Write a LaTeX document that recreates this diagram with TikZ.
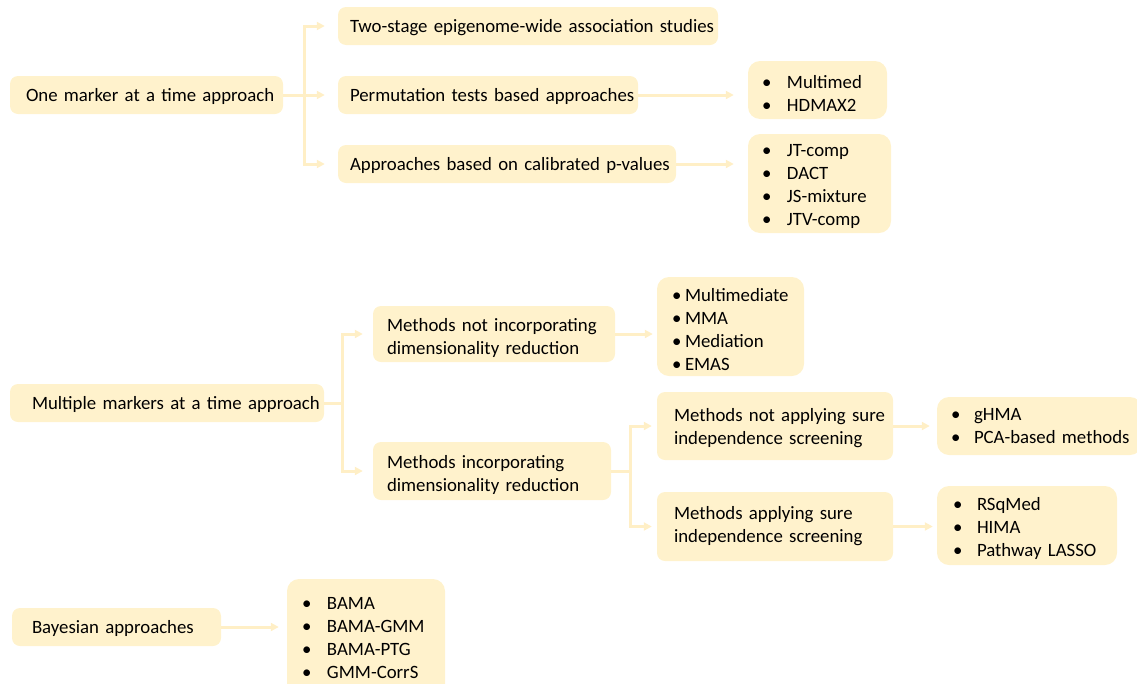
\documentclass[tikz,border=0pt]{standalone}
\usepackage{fontspec}
\setmainfont{Carlito}
\usetikzlibrary{arrows.meta,calc}
\definecolor{boxfill}{HTML}{FFF2CC}
\definecolor{linecol}{HTML}{FFEFC6}
\newcommand{\itm}[2]{\makebox[#1][l]{\textbullet}\mbox{#2}}
\begin{document}
\begin{tikzpicture}[x=1pt,y=-1pt,
  box/.style={fill=boxfill, draw=none, rounded corners=8pt, align=left,
    inner ysep=0pt, font=\fontsize{18.8}{23}\selectfont, text=black},
  lift/.style={execute at begin node={\rule{0pt}{#1}}},
  onebox/.style={box, lift=16pt},
  twobox/.style={box, lift=22pt},
  listbox/.style={box, rounded corners=12pt, lift=19pt},
  ln/.style={draw=linecol, line width=3pt},
  arr/.style={ln, -{Triangle[length=8pt,width=8pt]}}]
\useasboundingbox (0,0) rectangle (1137,683);

% --- One marker at a time ---
\node[onebox, inner xsep=16pt, text width=241pt, minimum height=38pt] (one) at (146.5,95) {\mbox{One marker at a time approach}};
\node[onebox, inner xsep=12pt, text width=356pt, minimum height=38pt] (two) at (528,26) {\mbox{Two-stage epigenome-wide association studies}};
\node[onebox, inner xsep=12pt, text width=276pt, minimum height=38pt] (perm) at (488,95) {\mbox{Permutation tests based approaches}};
\node[onebox, inner xsep=12pt, text width=314pt, minimum height=38pt] (calib) at (507,164) {\mbox{Approaches based on calibrated p-values}};
\node[listbox, inner xsep=14pt, text width=111pt, minimum height=58pt] (mm) at (817.5,90) {\itm{25pt}{Multimed}\\\itm{25pt}{HDMAX2}};
\node[listbox, inner xsep=14pt, text width=115pt, minimum height=99pt] (jt) at (819.5,183.5) {\itm{25pt}{JT-comp}\\\itm{25pt}{DACT}\\\itm{25pt}{JS-mixture}\\\itm{25pt}{JTV-comp}};

\coordinate (j1) at (304,95);
\draw[ln] (one.east) -- (j1);
\draw[arr] (j1) |- ($(two.west)+(-13,0)$);
\draw[arr] (j1) -- ($(perm.west)+(-13,0)$);
\draw[arr] (j1) |- ($(calib.west)+(-13,0)$);
\draw[arr] (perm.east) -- ($(mm.west |- perm.east)+(-14,0)$);
\draw[arr] (calib.east) -- ($(jt.west |- calib.east)+(-14,0)$);

% --- Multiple markers at a time ---
\node[onebox, inner xsep=22pt, text width=270pt, minimum height=38pt] (multi) at (167,403) {\mbox{Multiple markers at a time approach}};
\node[twobox, inner xsep=14pt, text width=214pt, minimum height=56pt] (notdim) at (494,334) {\mbox{Methods not incorporating}\\\mbox{dimensionality reduction}};
\node[twobox, inner xsep=14pt, text width=210pt, minimum height=58pt] (dim) at (492,471) {\mbox{Methods incorporating}\\\mbox{dimensionality reduction}};
\node[listbox, inner xsep=15pt, text width=117pt, minimum height=99pt] (mmd) at (730.5,326.5) {\itm{13pt}{Multimediate}\\\itm{13pt}{MMA}\\\itm{13pt}{Mediation}\\\itm{13pt}{EMAS}};
\node[box, lift=18pt, inner xsep=17pt, text width=202pt, minimum height=68pt] (notsis) at (775,426) {\mbox{Methods not applying sure}\\\mbox{independence screening}};
\node[box, inner xsep=17pt, text width=202pt, minimum height=69pt] (sis) at (775,526.5) {\mbox{Methods applying sure}\\\mbox{independence screening}};
\node[box, rounded corners=12pt, inner xsep=14pt, text width=177pt, minimum height=58pt] (ghma) at (1039.5,426) {\itm{23pt}{gHMA}\\\itm{23pt}{PCA-based methods}};
\node[listbox, inner xsep=16pt, text width=148pt, minimum height=79pt] (rsq) at (1027,525.5) {\itm{24pt}{RSqMed}\\\itm{24pt}{HIMA}\\\itm{24pt}{Pathway LASSO}};

\coordinate (j2) at (342,403);
\draw[ln] (multi.east) -- (j2);
\draw[arr] (j2) |- ($(notdim.west)+(-10,0)$);
\draw[arr] (j2) |- ($(dim.west)+(-10,0)$);
\draw[arr] (notdim.east) -- ($(mmd.west |- notdim.east)+(-4,0)$);
\coordinate (j3) at (630,471);
\draw[ln] (dim.east) -- (j3);
\draw[arr] (j3) |- ($(notsis.west)+(-5,0)$);
\draw[arr] (j3) |- ($(sis.west)+(-5,0)$);
\draw[arr] (notsis.east) -- ($(ghma.west |- notsis.east)+(-7,0)$);
\draw[arr] (sis.east) -- ($(rsq.west |- sis.east)+(-4,0)$);

% --- Bayesian ---
\node[onebox, inner xsep=20pt, text width=169pt, minimum height=38pt] (bayes) at (116.5,627) {\mbox{Bayesian approaches}};
\node[box, rounded corners=12pt, lift=13pt, inner xsep=15pt, text width=128pt, minimum height=118pt] (bama) at (366,638) {\itm{25pt}{BAMA}\\\itm{25pt}{BAMA-GMM}\\\itm{25pt}{BAMA-PTG}\\\itm{25pt}{GMM-CorrS}};
\draw[arr] (bayes.east) -- ($(bama.west |- bayes.east)+(-8,0)$);
\end{tikzpicture}
\end{document}
